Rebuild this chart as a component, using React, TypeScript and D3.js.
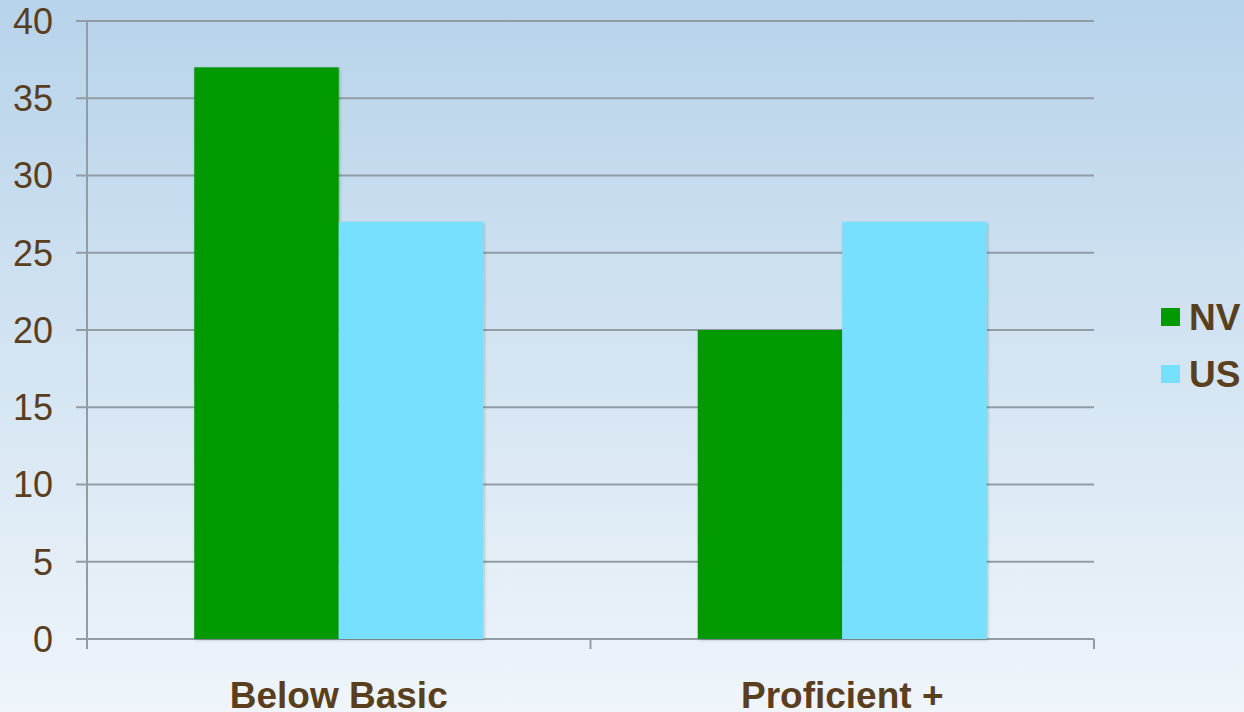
import React, { useEffect, useRef } from 'react';
import * as d3 from 'd3';

const categories = ['Below Basic', 'Proficient +'];
const seriesNames = ['NV', 'US'];
const nvValues = [37, 20];
const usValues = [27, 27];
const yTicks = [0, 5, 10, 15, 20, 25, 30, 35, 40];
const seriesColors = ['#009a00', '#78e0ff'];

const W = 1244;
const H = 712;

export default function App() {
  const ref = useRef<SVGSVGElement>(null);

  useEffect(() => {
    document.body.style.margin = '0';
    const svg = d3.select(ref.current);
    svg.selectAll('*').remove();

    const margin = { top: 21, left: 87, right: 150, bottom: 73 };
    const plotW = 1094 - margin.left;
    const plotH = 639 - margin.top;
    const textColor = '#5a3f1f';
    const font = '"Liberation Sans", Arial, sans-serif';

    // background gradient
    const defs = svg.append('defs');
    const grad = defs.append('linearGradient')
      .attr('id', 'bg').attr('x1', 0).attr('y1', 0).attr('x2', 0).attr('y2', 1);
    grad.append('stop').attr('offset', '0%').attr('stop-color', '#b7d3ea');
    grad.append('stop').attr('offset', '100%').attr('stop-color', '#eff5fa');
    const shadow = defs.append('filter').attr('id', 'shadow')
      .attr('x', '-10%').attr('y', '-10%').attr('width', '130%').attr('height', '130%');
    shadow.append('feDropShadow').attr('dx', 1).attr('dy', 1).attr('stdDeviation', 1.5)
      .attr('flood-color', '#000').attr('flood-opacity', 0.25);

    svg.append('rect').attr('width', W).attr('height', H).attr('fill', 'url(#bg)');

    const g = svg.append('g').attr('transform', `translate(${margin.left},${margin.top})`);

    const y = d3.scaleLinear().domain([0, 40]).range([plotH, 0]);
    const x0 = d3.scaleBand().domain(categories).range([0, plotW]).paddingInner(0).paddingOuter(0);
    const groupW = 289;
    const x1 = d3.scaleBand().domain(seriesNames).range([0, groupW]);

    // gridlines
    g.selectAll('line.grid').data(yTicks).enter().append('line')
      .attr('x1', -11).attr('x2', plotW)
      .attr('y1', d => y(d)).attr('y2', d => y(d))
      .attr('stroke', '#939ca5').attr('stroke-width', 2);

    // y axis line
    g.append('line').attr('x1', 0).attr('x2', 0).attr('y1', 0).attr('y2', plotH + 10)
      .attr('stroke', '#939ca5').attr('stroke-width', 2);

    // x ticks
    const xTickPos = [0, ...categories.map(c => (x0(c) as number) + x0.bandwidth())];
    g.selectAll('line.xt').data(xTickPos).enter().append('line')
      .attr('x1', d => d).attr('x2', d => d).attr('y1', plotH).attr('y2', plotH + 10)
      .attr('stroke', '#939ca5').attr('stroke-width', 2);

    // y labels
    g.selectAll('text.yl').data(yTicks).enter().append('text')
      .attr('x', -34).attr('y', d => y(d)).attr('dy', '0.36em')
      .attr('text-anchor', 'end')
      .attr('font-family', font).attr('font-size', 36).attr('fill', textColor)
      .text(d => d);

    // bars
    const data = categories.map((c, i) => ({ cat: c, values: [nvValues[i], usValues[i]] }));
    const groups = g.selectAll('g.grp').data(data).enter().append('g')
      .attr('transform', d => `translate(${(x0(d.cat) as number) + (x0.bandwidth() - groupW) / 2},0)`);
    groups.selectAll('rect').data(d => d.values.map((v, i) => ({ name: seriesNames[i], v, i })))
      .enter().append('rect')
      .attr('x', d => x1(d.name) as number)
      .attr('width', x1.bandwidth())
      .attr('y', d => y(d.v))
      .attr('height', d => plotH - y(d.v))
      .attr('fill', d => seriesColors[d.i])
      .attr('filter', 'url(#shadow)');

    // category labels
    g.selectAll('text.xl').data(categories).enter().append('text')
      .attr('x', d => (x0(d) as number) + x0.bandwidth() / 2)
      .attr('y', plotH + 69)
      .attr('text-anchor', 'middle')
      .attr('font-family', font).attr('font-size', 37).attr('font-weight', 'bold')
      .attr('fill', textColor)
      .text(d => d);

    // legend
    const legend = svg.append('g').attr('transform', 'translate(1161,308)');
    seriesNames.forEach((s, i) => {
      const lg = legend.append('g').attr('transform', `translate(0,${i * 57})`);
      lg.append('rect').attr('width', 19).attr('height', 18).attr('fill', seriesColors[i]);
      lg.append('text').attr('x', 28).attr('y', 9).attr('dy', '0.36em')
        .attr('font-family', font).attr('font-size', 37).attr('font-weight', 'bold')
        .attr('fill', textColor).text(s);
    });
  }, []);

  return <svg ref={ref} width={W} height={H} style={{ display: 'block' }} />;
}
